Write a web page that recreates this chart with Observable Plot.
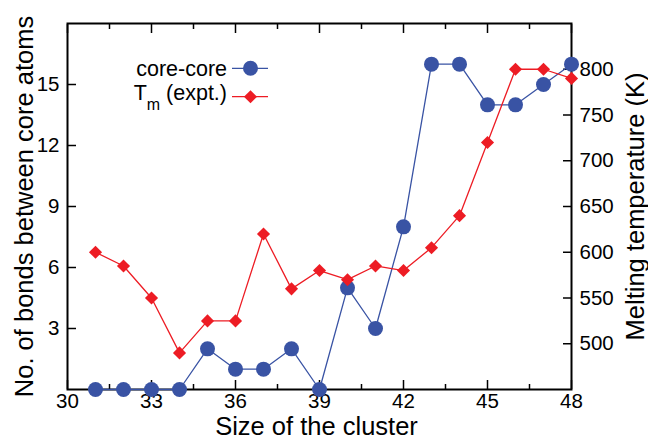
<!DOCTYPE html>
<html><head><meta charset="utf-8">
<script src="https://cdn.jsdelivr.net/npm/d3@7"></script>
<script src="https://cdn.jsdelivr.net/npm/@observablehq/plot@0.6"></script>
<style>
body{margin:0;background:#fff}
</style>
</head><body><div id="chart"></div>
<script>
const sizes = [31,32,33,34,35,36,37,38,39,40,41,42,43,44,45,46,47,48];
const coreBonds = [0,0,0,0,2,1,1,2,0,5,3,8,16,16,14,14,15,16];
const meltingT = [600,585,550,490,525,525,620,560,580,570,585,580,605,640,720,800,800,790];
const xTicks = [30,33,36,39,42,45,48];
const xMinorTicks = [31.5,34.5,37.5,40.5,43.5,46.5];
const bondTicks = [3,6,9,12,15];
const tempTicks = [500,550,600,650,700,750,800];
const bondDomain = [0,18];
const tempDomain = [450,850];
const xTitle = "Size of the cluster";
const yTitle = "No. of bonds between core atoms";
const y2Title = "Melting temperature (K)";

const blue = "#3953a4";
const red = "#ed1c24";
const font = "'Liberation Sans', Arial, Helvetica, sans-serif";

const toBond = t => (t - tempDomain[0]) / (tempDomain[1] - tempDomain[0]) * (bondDomain[1] - bondDomain[0]) + bondDomain[0];
const toTemp = b => (b - bondDomain[0]) / (bondDomain[1] - bondDomain[0]) * (tempDomain[1] - tempDomain[0]) + tempDomain[0];

const data = sizes.map((s, i) => ({size: s, bonds: coreBonds[i], temp: meltingT[i]}));

const tickFont = 20.5;
const titleFont = 25.5;

const chart = Plot.plot({
  width: 648,
  height: 439,
  marginLeft: 67,
  marginRight: 77,
  marginTop: 23,
  marginBottom: 50,
  style: {fontFamily: font, fontSize: tickFont + "px", background: "#fff", color: "#000"},
  x: {domain: [30, 48]},
  y: {domain: bondDomain},
  marks: [
    // axes (ticks inward, gnuplot style)
    Plot.axisX(xTicks, {anchor: "bottom", tickSize: -9, tickPadding: 13, strokeWidth: 1.5, fontSize: tickFont, label: null}),
    Plot.axisX(xMinorTicks, {anchor: "bottom", tickSize: -5, strokeWidth: 1.5, tickFormat: () => "", label: null}),
    Plot.axisX(xTicks, {anchor: "top", tickSize: -9, strokeWidth: 1.5, tickFormat: () => "", label: null}),
    Plot.axisX(xMinorTicks, {anchor: "top", tickSize: -5, strokeWidth: 1.5, tickFormat: () => "", label: null}),
    Plot.axisY(bondTicks, {anchor: "left", tickSize: -9, tickPadding: 17, strokeWidth: 1.5, fontSize: tickFont, label: null}),
    Plot.axisY(tempTicks.map(toBond), {anchor: "right", tickSize: -9, tickPadding: 17, strokeWidth: 1.5, fontSize: tickFont,
      tickFormat: b => String(Math.round(toTemp(b))), label: null}),
    Plot.frame({stroke: "#000", strokeWidth: 2}),
    // series
    Plot.line(data, {x: "size", y: "bonds", stroke: blue, strokeWidth: 1.3}),
    Plot.dot(data, {x: "size", y: "bonds", r: 7.5, fill: blue, stroke: "none"}),
    Plot.line(data, {x: "size", y: d => toBond(d.temp), stroke: red, strokeWidth: 1.3}),
    Plot.dot(data, {x: "size", y: d => toBond(d.temp), symbol: "diamond2", r: 5.9, fill: red, stroke: "none"}),
    // titles
    Plot.text([xTitle], {frameAnchor: "bottom", textAnchor: "middle", dx: -3, dy: 37, lineAnchor: "middle", fontSize: titleFont, fill: "#000"}),
    Plot.text([yTitle], {frameAnchor: "left", textAnchor: "middle", rotate: -90, dx: -43, lineAnchor: "middle", fontSize: titleFont, fill: "#000"}),
    Plot.text([y2Title], {frameAnchor: "right", textAnchor: "middle", rotate: -90, dx: 64, lineAnchor: "middle", fontSize: titleFont, fill: "#000"})
  ]
});

document.getElementById("chart").appendChild(chart);

// legend (inside plot, top-left)
const svg = d3.select(chart);
const lg = svg.append("g").attr("font-family", font).attr("font-size", 21.5);
const rows = [
  {y: 68.3, base: 76, color: blue, kind: "circle"},
  {y: 96.7, base: 99.5, color: red, kind: "diamond"}
];
lg.append("text").attr("x", 227).attr("y", rows[0].base).attr("text-anchor", "end").text("core-core");
const t2 = lg.append("text").attr("x", 227).attr("y", rows[1].base).attr("text-anchor", "end");
t2.append("tspan").text("T");
t2.append("tspan").attr("font-size", 16).attr("dy", 10).text("m");
t2.append("tspan").attr("dy", -10).text(" (expt.)");
rows.forEach(r => {
  lg.append("line").attr("x1", 232).attr("x2", 268).attr("y1", r.y).attr("y2", r.y)
    .attr("stroke", r.color).attr("stroke-width", 1.3);
  if (r.kind === "circle") {
    lg.append("circle").attr("cx", 250.5).attr("cy", r.y).attr("r", 7.5).attr("fill", r.color);
  } else {
    lg.append("path").attr("transform", `translate(250.5,${r.y})`)
      .attr("d", d3.symbol(d3.symbolDiamond2, 5.9 * 5.9 * Math.PI)()).attr("fill", r.color);
  }
});
</script>
</body></html>
